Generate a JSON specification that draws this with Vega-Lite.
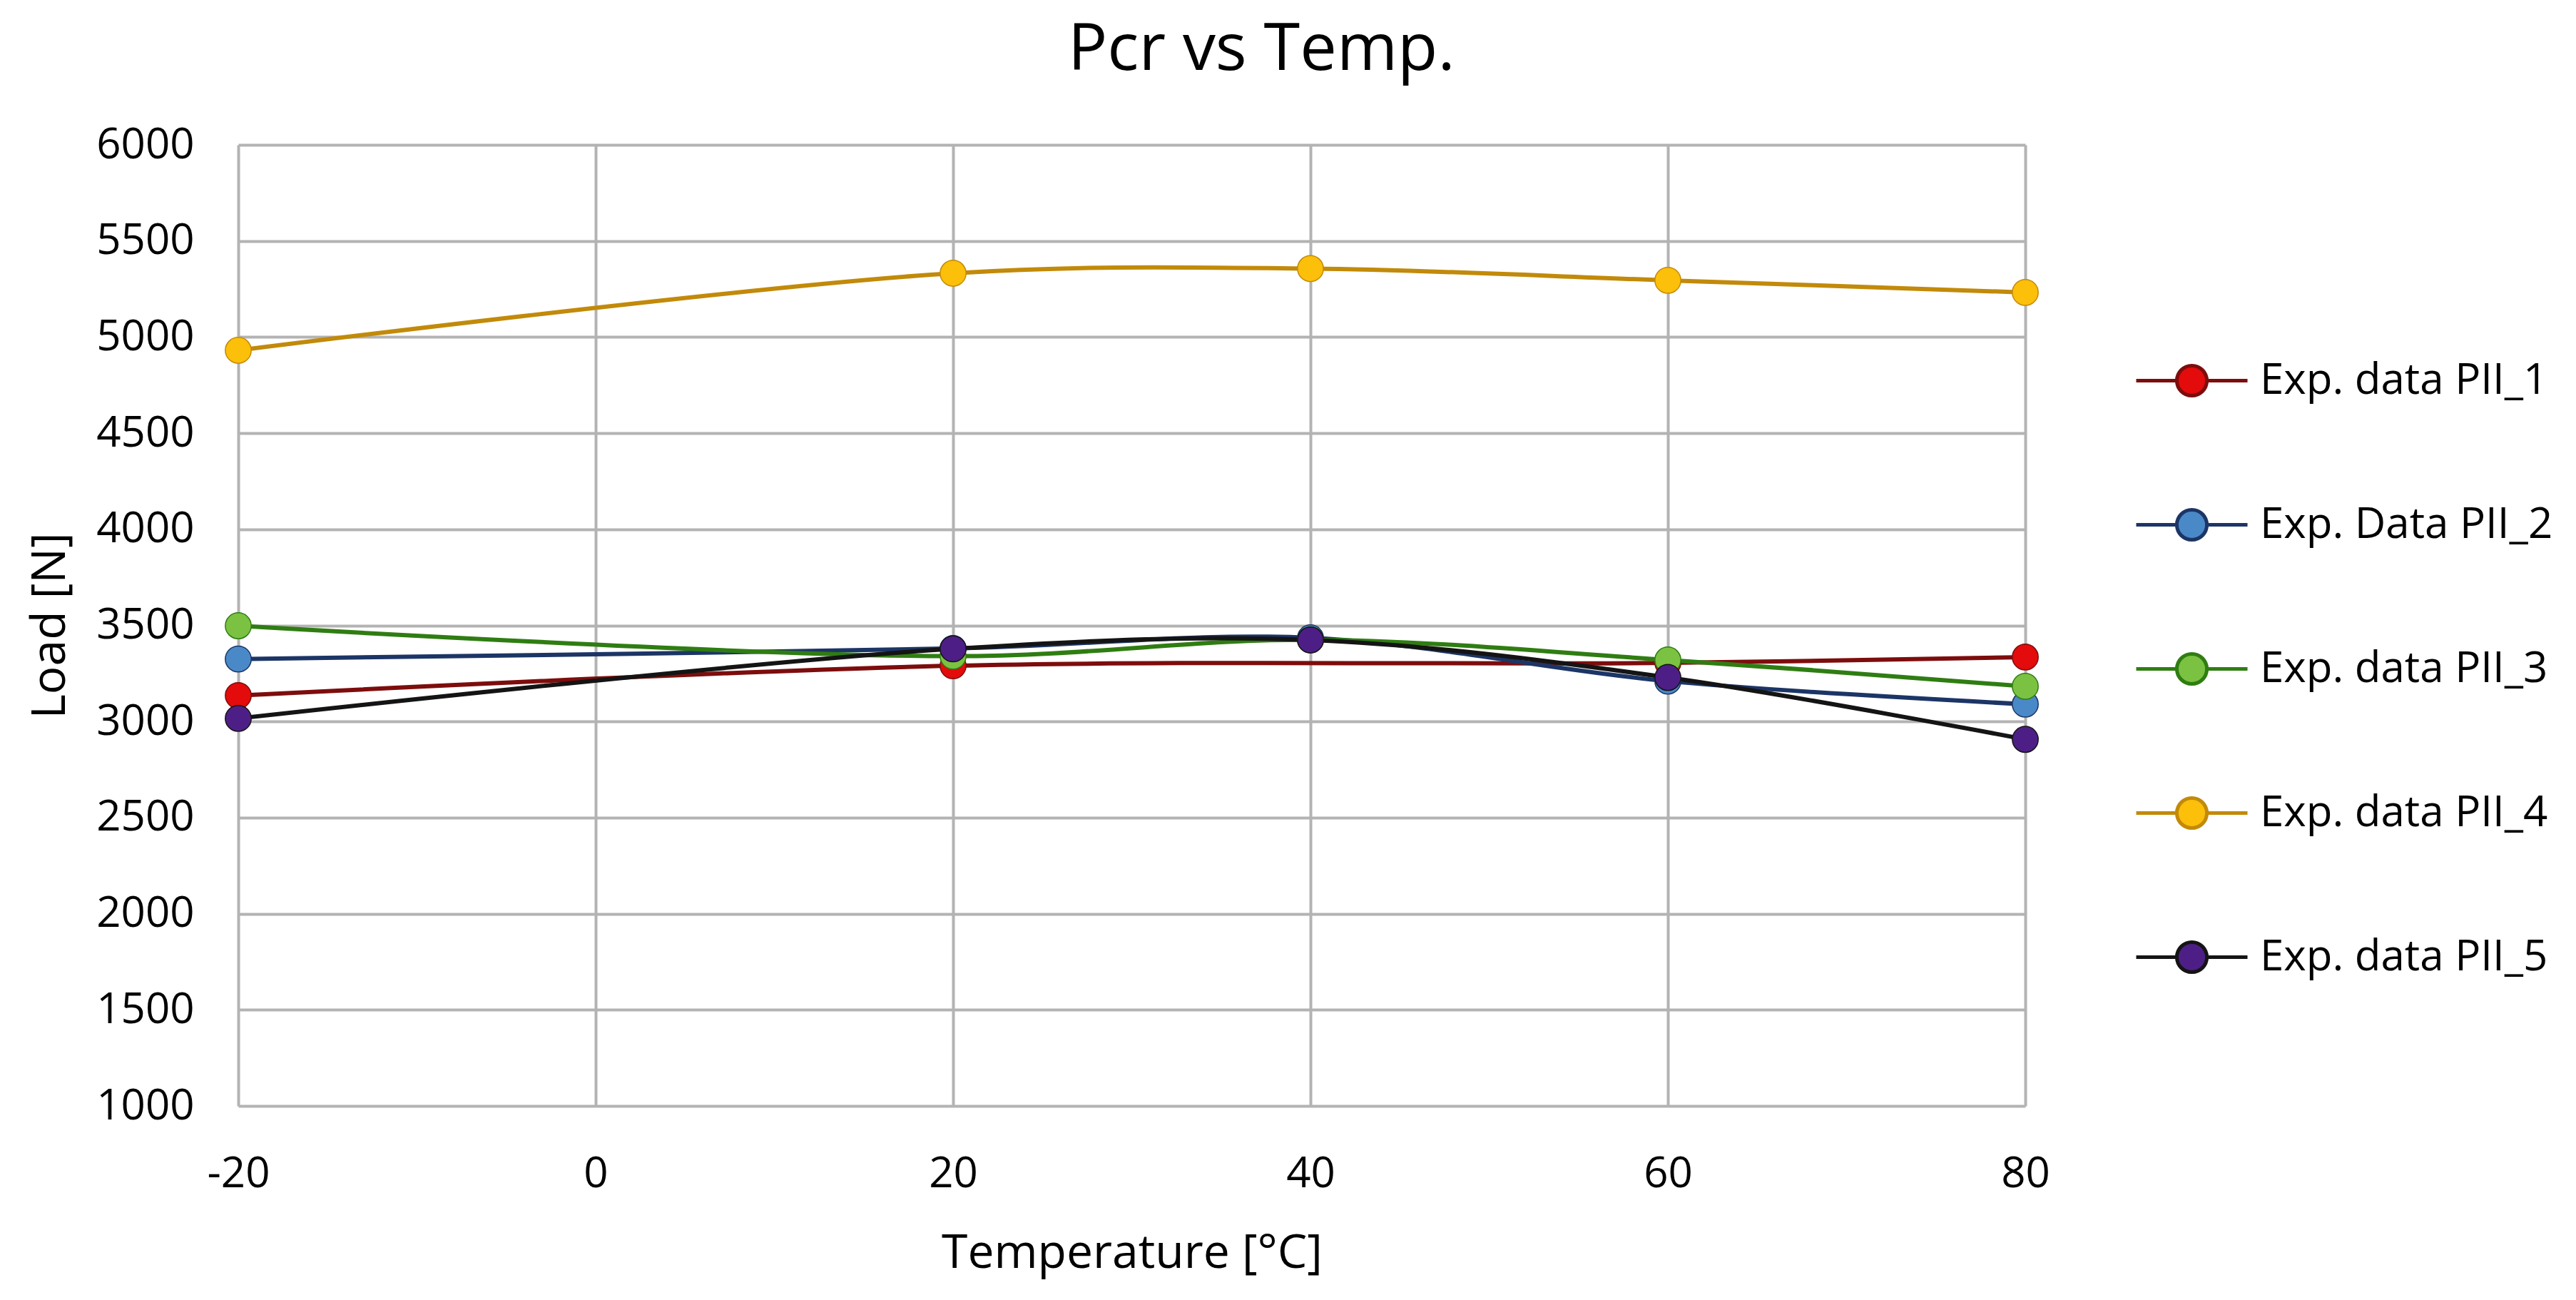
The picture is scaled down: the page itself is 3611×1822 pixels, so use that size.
{
  "$schema": "https://vega.github.io/schema/vega-lite/v6.json",
  "description": "Pcr vs Temp. - experimental load data PII_1 to PII_5",
  "autosize": {"type": "none"},
  "padding": {"left": 334, "top": 203, "right": 772, "bottom": 272},
  "width": 2505,
  "height": 1347,
  "background": "white",
  "title": {
    "text": "Pcr vs Temp.",
    "anchor": "start",
    "frame": "group",
    "dx": 1163,
    "offset": 56,
    "fontSize": 92,
    "font": "Open Sans",
    "fontWeight": "normal",
    "color": "#000000"
  },
  "data": {
    "values": [
      {"series": "Exp. data PII_1", "temp": -20, "load": 3135},
      {"series": "Exp. data PII_1", "temp": 20, "load": 3290},
      {"series": "Exp. data PII_1", "temp": 60, "load": 3305},
      {"series": "Exp. data PII_1", "temp": 80, "load": 3335},
      {"series": "Exp. Data PII_2", "temp": -20, "load": 3325},
      {"series": "Exp. Data PII_2", "temp": 20, "load": 3380},
      {"series": "Exp. Data PII_2", "temp": 40, "load": 3435},
      {"series": "Exp. Data PII_2", "temp": 60, "load": 3210},
      {"series": "Exp. Data PII_2", "temp": 80, "load": 3090},
      {"series": "Exp. data PII_3", "temp": -20, "load": 3498},
      {"series": "Exp. data PII_3", "temp": 20, "load": 3340},
      {"series": "Exp. data PII_3", "temp": 40, "load": 3425},
      {"series": "Exp. data PII_3", "temp": 60, "load": 3320},
      {"series": "Exp. data PII_3", "temp": 80, "load": 3183},
      {"series": "Exp. data PII_4", "temp": -20, "load": 4931},
      {"series": "Exp. data PII_4", "temp": 20, "load": 5332},
      {"series": "Exp. data PII_4", "temp": 40, "load": 5356},
      {"series": "Exp. data PII_4", "temp": 60, "load": 5295},
      {"series": "Exp. data PII_4", "temp": 80, "load": 5232},
      {"series": "Exp. data PII_5", "temp": -20, "load": 3016},
      {"series": "Exp. data PII_5", "temp": 20, "load": 3378},
      {"series": "Exp. data PII_5", "temp": 40, "load": 3424},
      {"series": "Exp. data PII_5", "temp": 60, "load": 3229},
      {"series": "Exp. data PII_5", "temp": 80, "load": 2907}
    ]
  },
  "encoding": {
    "x": {
      "field": "temp",
      "type": "quantitative",
      "scale": {"domain": [-20, 80], "nice": false, "zero": false},
      "axis": {
        "title": "Temperature [°C]",
        "values": [-20, 0, 20, 40, 60, 80],
        "labelExpr": "'' + datum.value",
        "labelFlush": false,
        "labelPadding": 66,
        "titlePadding": 49,
        "titleFontSize": 66
      }
    },
    "y": {
      "field": "load",
      "type": "quantitative",
      "scale": {"domain": [1000, 6000], "nice": false, "zero": false},
      "axis": {
        "title": "Load [N]",
        "values": [1000, 1500, 2000, 2500, 3000, 3500, 4000, 4500, 5000, 5500, 6000],
        "labelExpr": "'' + datum.value",
        "labelFlush": false,
        "labelPadding": 62,
        "titlePadding": 30,
        "titleFontSize": 66
      }
    },
    "stroke": {
      "field": "series",
      "type": "nominal",
      "title": null,
      "scale": {
        "domain": ["Exp. data PII_1", "Exp. Data PII_2", "Exp. data PII_3", "Exp. data PII_4", "Exp. data PII_5"],
        "range": ["#7d0d0d", "#1c3566", "#2f7d12", "#c28a0a", "#141414"]
      }
    }
  },
  "layer": [
    {
      "mark": {"type": "line", "interpolate": "catmull-rom", "strokeWidth": 6}
    },
    {
      "mark": {"type": "circle", "size": 1320, "opacity": 1, "strokeWidth": 1.5},
      "encoding": {
        "fill": {
          "field": "series",
          "type": "nominal",
          "title": null,
          "scale": {
            "domain": ["Exp. data PII_1", "Exp. Data PII_2", "Exp. data PII_3", "Exp. data PII_4", "Exp. data PII_5"],
            "range": ["#e30b0b", "#4a89c8", "#7cc242", "#fcbf0a", "#4d1f86"]
          }
        }
      }
    }
  ],
  "config": {
    "font": "Open Sans",
    "view": {"stroke": null},
    "axis": {
      "domain": false,
      "ticks": false,
      "tickSize": 0,
      "grid": true,
      "gridColor": "#b3b3b3",
      "gridWidth": 4,
      "labelFont": "Open Sans",
      "labelFontSize": 60,
      "labelColor": "#000000",
      "titleFont": "Open Sans",
      "titleFontWeight": "normal",
      "titleColor": "#000000"
    },
    "legend": {
      "orient": "none",
      "legendX": 2658,
      "legendY": 250,
      "direction": "vertical",
      "symbolType": "M-1,0H-0.27M0.27,0H1M-0.27,0A0.27,0.27,0,1,0,0.27,0A0.27,0.27,0,1,0,-0.27,0Z",
      "symbolSize": 24336,
      "symbolStrokeWidth": 5,
      "symbolOpacity": 1,
      "labelFont": "Open Sans",
      "labelColor": "#000000",
      "labelFontSize": 60,
      "labelOffset": 15,
      "labelLimit": 0,
      "rowPadding": 90,
      "padding": 0
    }
  }
}
